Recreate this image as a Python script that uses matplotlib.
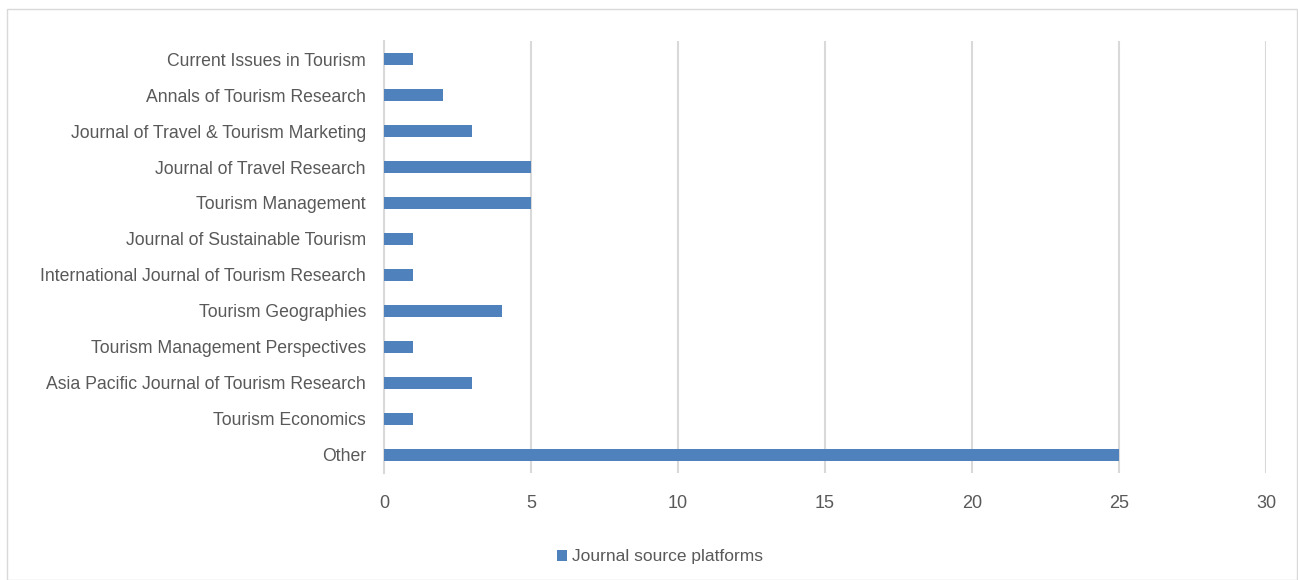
import matplotlib
matplotlib.use('Agg')
import matplotlib.pyplot as plt
from matplotlib.patches import Rectangle

# Data
journals = [
    'Current Issues in Tourism',
    'Annals of Tourism Research',
    'Journal of Travel & Tourism Marketing',
    'Journal of Travel Research',
    'Tourism Management',
    'Journal of Sustainable Tourism',
    'International Journal of Tourism Research',
    'Tourism Geographies',
    'Tourism Management Perspectives',
    'Asia Pacific Journal of Tourism Research',
    'Tourism Economics',
    'Other',
]
counts = [1, 2, 3, 5, 5, 1, 1, 4, 1, 3, 1, 25]
x_ticks = [0, 5, 10, 15, 20, 25, 30]
series_name = 'Journal source platforms'

plt.rcParams['font.family'] = ['Liberation Sans Narrow', 'Liberation Sans', 'DejaVu Sans']
text_color = '#595959'
bar_color = '#4f81bd'

fig = plt.figure(figsize=(12.98, 5.8), dpi=100)
ax = fig.add_axes([0.2958, 0.1845, 0.6795, 0.7448])

# chart border
fig.patches.append(Rectangle((7 / 1298, 0), 1 - 8 / 1298, 1 - 9 / 580,
                             transform=fig.transFigure, fill=False,
                             edgecolor='#d9d9d9', linewidth=1))

ypos = list(range(len(journals)))
ax.barh(ypos, counts, height=0.33, color=bar_color, label=series_name, zorder=3)
ax.set_ylim(len(journals) - 0.5, -0.5)
ax.set_xlim(0, 30)
ax.set_yticks(ypos)
ax.set_yticklabels(journals, fontsize=12.7, color=text_color)
ax.set_xticks(x_ticks)
ax.set_xticklabels([str(t) for t in x_ticks], fontsize=13, color=text_color)

ax.grid(axis='x', color='#d9d9d9', linewidth=1.5, zorder=0)
for s in ['top', 'right', 'bottom']:
    ax.spines[s].set_visible(False)
ax.spines['left'].set_color('#d9d9d9')
ax.spines['left'].set_linewidth(1.5)
ax.tick_params(axis='both', length=0)
ax.tick_params(axis='y', pad=13)
ax.tick_params(axis='x', pad=16)

leg = fig.legend(loc='center', bbox_to_anchor=(660 / 1298, 1 - 557 / 580),
                 frameon=False, fontsize=12.5, handlelength=0.6, handleheight=0.6,
                 handletextpad=0.3)
for t in leg.get_texts():
    t.set_color(text_color)

fig.savefig('out.png', dpi=100)
